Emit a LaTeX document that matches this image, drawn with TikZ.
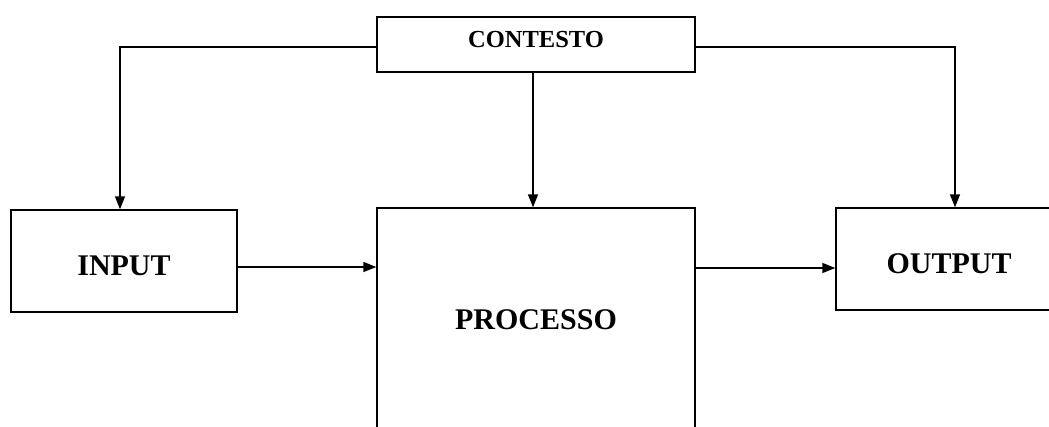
\documentclass[tikz,border=0pt]{standalone}
\usepackage{fontspec}
\setmainfont{Liberation Serif}
\usetikzlibrary{arrows.meta}
\begin{document}
\begin{tikzpicture}[x=1pt,y=-1pt,
  box/.style={draw, line width=1.4pt, inner sep=0pt, font=\bfseries\fontsize{30}{36}\selectfont},
  arr/.style={draw, line width=1.4pt, -{Triangle[length=13pt,width=10pt]}}]
\useasboundingbox (0,0) rectangle (1049,426);
\clip (0,0) rectangle (1049,426);
\fill[white] (0,0) rectangle (1049,426);
\node[box, minimum width=318pt, minimum height=55pt, text height=17pt, text depth=12pt,
  font=\bfseries\fontsize{24.5}{30}\selectfont] (contesto) at (536,44.5) {CONTESTO};
\node[box, minimum width=226pt, minimum height=102pt, text height=28pt, text depth=0pt] (input) at (124,261) {INPUT};
\node[box, minimum width=318pt, minimum height=222pt, text height=20pt, text depth=0pt] (processo) at (536,319) {PROCESSO};
\node[box, minimum width=226pt, minimum height=102pt, text height=28pt, text depth=0pt] (output) at (949,259) {OUTPUT};
\coordinate (cl) at ([yshift=-2.5pt]contesto.west);
\coordinate (cr) at ([yshift=-2.5pt]contesto.east);
\coordinate (ti) at ([xshift=-4pt]input.north);
\coordinate (to) at ([xshift=6pt]output.north);
\coordinate (cs) at ([xshift=-3pt]contesto.south);
\coordinate (ia) at ([yshift=-6pt]input.east);
\coordinate (ob) at ([yshift=-9pt]output.west);
\draw[arr] (cl) -| (ti);
\draw[arr] (cr) -| (to);
\draw[arr] (cs) -- (cs |- processo.north);
\draw[arr] (ia) -- (ia -| processo.west);
\draw[arr] (ob -| processo.east) -- (ob);
\end{tikzpicture}
\end{document}
